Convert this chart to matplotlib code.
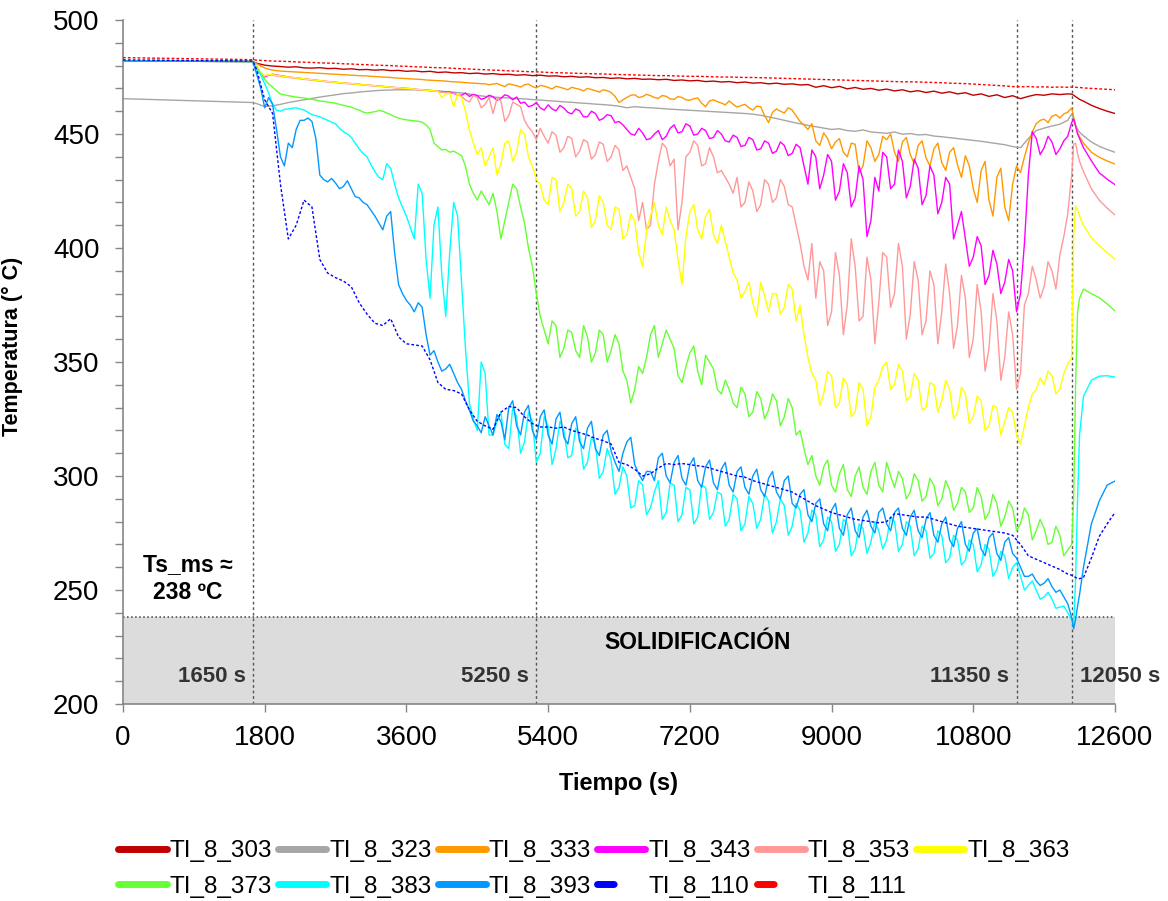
import matplotlib
matplotlib.use("Agg")
import matplotlib.pyplot as plt
from matplotlib.lines import Line2D
from matplotlib.ticker import MultipleLocator

plt.rcParams['font.family'] = ['Liberation Sans', 'DejaVu Sans']

tail = [12050, 12075, 12100, 12125, 12150, 12200, 12300, 12400, 12500, 12600]
# smooth probes read every 100 s, noisy probes every 50 s
t = [0, 1650] + list(range(1700, 12001, 100)) + tail
t_fine = [0, 1650] + list(range(1700, 12001, 50)) + tail

ti_303 = [482.0, 481.8,
          481.0, 480.2, 479.8, 479.6, 479.3, 479.5, 479.0, 478.9, 479.1, 478.7,
          478.8, 478.4, 478.6, 478.2, 478.3, 478.0, 478.2, 477.8, 477.9, 477.5,
          477.7, 477.3, 477.5, 477.0, 477.2, 476.8, 476.9, 476.5, 476.7, 476.3,
          476.5, 476.1, 476.2, 475.8, 476.0, 475.6, 475.8, 475.4, 475.5, 475.1,
          475.3, 474.9, 475.1, 474.7, 474.8, 474.4, 474.6, 474.2, 474.4, 474.0,
          474.1, 473.8, 474.0, 473.5, 473.7, 473.3, 473.5, 473.0, 473.2, 472.8,
          473.0, 472.5, 472.8, 472.3, 472.5, 472.0, 472.3, 471.8, 472.0, 471.5,
          471.7, 470.5, 471.2, 470.3, 470.9, 469.8, 470.4, 469.6, 470.0, 469.2,
          469.7, 468.9, 469.4, 468.5, 469.0, 468.2, 468.8, 467.9, 468.5, 467.6,
          468.1, 467.0, 467.6, 466.5, 467.2, 466.0, 466.8, 465.5, 466.5, 467.3,
          467.0, 467.6, 467.3, 467.6,
          467.5, 467.0, 466.4, 465.8, 465.2, 464.4, 462.6, 461.2, 460.0, 459.0]

ti_323 = [465.5, 463.8,
          463.3, 462.0, 462.4, 463.0, 463.8, 464.4, 465.0, 465.6, 466.2, 466.7,
          467.2, 467.7, 468.0, 468.4, 468.7, 469.0, 469.2, 469.3, 469.4, 469.4,
          469.4, 469.3, 469.1, 468.9, 468.6, 468.3, 468.0, 467.5, 467.0, 466.5,
          466.2, 466.0, 465.8, 465.6, 465.4, 465.1, 464.9, 464.6, 464.4, 464.1,
          463.9, 463.6, 463.4, 463.1, 462.9, 462.6, 462.2, 461.5, 462.0, 461.7,
          461.5, 461.3, 461.0, 460.8, 460.6, 460.4, 460.2, 460.0, 459.8, 459.6,
          459.4, 459.2, 459.0, 458.7, 458.2, 457.5, 456.8, 456.0, 455.2, 454.5,
          453.8, 453.2, 452.6, 452.0, 452.3, 451.5, 451.2, 451.8, 450.9, 450.6,
          450.3, 450.9, 449.9, 450.2, 449.6, 449.8, 449.1, 448.8, 448.4, 448.0,
          447.6, 447.2, 446.8, 446.3, 445.8, 445.3, 444.5, 444.0, 448.0, 451.5,
          452.6, 453.5, 454.3, 456.0,
          458.8, 456.5, 453.8, 452.0, 450.8, 449.2, 446.5, 444.6, 443.2, 442.0]

ti_333 = [482.0, 481.8,
          480.8, 479.8, 479.0, 478.4, 478.0, 477.8, 477.6, 477.5, 477.4, 477.3,
          477.2, 477.1, 477.0, 476.9, 476.8, 476.7, 476.6, 476.5, 476.4, 476.3,
          476.2, 476.1, 476.0, 475.9, 475.8, 475.7, 475.6, 475.5, 475.5, 475.3,
          475.2, 475.1, 475.0, 474.9, 474.8, 474.6, 474.5, 474.4, 474.3, 474.2,
          474.1, 474.0, 473.9, 473.7, 473.6, 473.5, 473.4, 473.3, 473.2, 473.0,
          472.9, 472.8, 472.7, 472.5, 472.4, 472.3, 472.2, 472.1, 472.0, 471.6,
          471.9, 472.2, 471.4, 470.8, 472.0, 471.6, 471.2, 470.6, 471.6, 471.9,
          470.8, 470.2, 471.3, 471.0, 470.4, 469.8, 470.9, 470.5, 470.0, 469.4,
          470.5, 470.0, 469.6, 468.9, 470.0, 469.5, 469.0, 468.4, 469.4, 469.0,
          468.2, 466.5, 463.8, 465.0, 466.0, 467.0, 467.2, 466.0, 466.4, 467.4,
          466.8, 466.0, 465.6, 466.9, 466.5, 465.4, 465.2, 466.4, 466.0, 465.0,
          464.8, 465.5, 465.8, 463.5, 462.0, 464.5, 465.0, 464.2, 463.6, 462.8,
          464.5, 463.0, 461.8, 462.5, 463.0, 461.5, 460.5, 462.2, 462.0, 458.0,
          455.0, 459.5, 461.0, 460.0, 459.2, 461.5, 460.5, 458.0, 455.5, 454.0,
          452.0, 454.5, 447.0, 445.0, 450.5, 448.0, 443.5, 446.5, 448.0, 442.0,
          440.0, 446.0, 445.5, 433.0, 436.0, 447.0, 444.0, 438.0, 441.0, 449.0,
          447.5, 450.0, 442.0, 438.0, 446.5, 448.5, 441.0, 437.0, 445.0, 447.0,
          439.5, 436.0, 443.5, 446.0, 437.5, 434.0, 442.0, 444.0, 436.5, 431.0,
          440.5, 436.0, 426.0, 420.0, 434.0, 438.0, 421.0, 414.0, 431.0, 435.0,
          418.0, 412.0, 428.0, 436.0, 433.0, 440.0, 446.0, 451.0, 454.5, 456.0,
          456.5, 455.0, 457.8, 458.5, 457.0, 458.8, 459.6,
          461.4, 457.5, 453.5, 450.5, 448.8, 446.0, 442.0, 439.8, 438.2, 436.8]

ti_343 = [482.0, 481.8,
          479.5, 476.5, 475.0, 475.8, 476.2, 475.9, 475.6, 475.3, 475.0, 474.8,
          474.6, 474.4, 474.2, 474.0, 473.8, 473.6, 473.4, 473.2, 473.0, 472.9,
          472.7, 472.5, 472.4, 472.2, 472.1, 471.9, 471.8, 471.6, 471.5, 471.3,
          471.2, 471.0, 470.9, 470.7, 470.6, 470.4, 470.3, 470.1, 470.0, 469.9,
          469.7, 469.5, 469.4, 469.2, 469.1, 468.9, 468.7, 468.5, 468.3, 468.4,
          467.9, 467.0, 467.0, 468.0, 466.5, 467.4, 466.8, 465.2, 465.8, 467.0,
          466.4, 464.8, 465.6, 467.2, 466.6, 465.0, 466.2, 463.5, 464.0, 462.0,
          462.5, 463.8, 461.5, 460.5, 462.8, 461.0, 460.2, 462.5, 461.4, 459.5,
          458.8, 461.0, 460.2, 457.5, 457.6, 460.0, 459.0, 456.0, 456.8, 458.5,
          458.0, 455.0, 455.5, 454.0, 452.0, 450.0, 449.5, 452.5, 450.5, 447.5,
          448.0, 450.0, 451.5, 447.5, 449.0, 452.5, 454.0, 450.5, 451.0, 454.5,
          453.5, 449.5, 450.0, 452.5, 451.5, 448.0, 448.5, 451.5, 450.0, 447.0,
          446.5, 449.5, 448.5, 444.5, 445.0, 448.5, 447.5, 443.0, 443.5, 447.0,
          446.0, 441.5, 442.5, 446.5, 445.0, 440.5, 441.5, 445.5, 444.0, 436.0,
          428.0, 443.0, 440.0, 426.0, 432.0, 441.0, 438.0, 421.0, 425.0, 437.0,
          433.0, 418.0, 422.0, 436.0, 430.0, 405.0, 412.0, 431.0, 425.0, 442.0,
          440.0, 426.0, 428.0, 443.0, 438.0, 422.0, 427.0, 439.0, 435.0, 419.0,
          423.0, 436.0, 432.0, 415.0, 420.0, 431.0, 428.0, 404.0, 410.0, 416.0,
          404.0, 392.0, 396.0, 405.0, 401.0, 384.0, 388.0, 399.0, 393.0, 380.0,
          385.0, 395.0, 390.0, 372.0, 380.0, 402.0, 432.0, 451.0, 448.0, 441.0,
          444.0, 449.0, 446.5, 441.0, 443.5, 447.0, 449.0,
          455.0, 456.5, 453.5, 450.0, 448.0, 444.0, 438.3, 433.0, 430.2, 427.8]

ti_353 = [482.0, 481.8,
          479.5, 476.8, 475.5, 475.9, 475.8, 475.5, 475.2, 475.0, 474.8, 474.6,
          474.4, 474.2, 474.0, 473.8, 473.6, 473.4, 473.2, 473.0, 472.9, 472.7,
          472.6, 472.4, 472.3, 472.1, 472.0, 471.8, 471.7, 471.5, 471.4, 471.2,
          471.1, 470.9, 470.8, 470.6, 470.5, 470.3, 470.2, 470.0, 469.9, 469.7,
          469.6, 469.4, 469.3, 469.1, 469.0, 468.8, 468.6, 468.4, 468.2, 468.0,
          467.8, 467.2, 466.5, 465.0, 464.0, 467.0, 466.0, 461.5, 463.0, 466.0,
          459.0, 465.5, 464.5, 455.5, 458.0, 464.0, 463.0, 462.0, 456.0, 453.0,
          451.0, 447.5, 452.5, 449.0, 446.0, 451.0, 449.5, 442.0, 444.0, 449.0,
          448.0, 440.0, 442.5, 447.5, 446.5, 439.0, 441.0, 446.5, 445.5, 438.0,
          440.0, 445.0, 443.0, 434.0, 436.0, 431.0, 426.0, 412.0, 420.0, 408.0,
          410.0, 428.0, 438.0, 446.0, 444.0, 436.0, 439.0, 408.0, 420.0, 440.0,
          442.0, 447.0, 445.0, 436.0, 437.0, 444.0, 440.0, 433.0, 434.0, 431.0,
          428.0, 424.0, 431.0, 418.0, 420.0, 429.0, 425.0, 416.0, 419.0, 430.0,
          428.0, 420.0, 422.0, 430.0, 427.0, 419.0, 418.0, 410.0, 402.0, 392.0,
          386.0, 402.0, 378.0, 394.0, 390.0, 366.0, 372.0, 398.0, 388.0, 362.0,
          375.0, 404.0, 392.0, 368.0, 370.0, 396.0, 386.0, 358.0, 376.0, 398.0,
          396.0, 374.0, 380.0, 402.0, 392.0, 360.0, 371.0, 394.0, 386.0, 362.0,
          368.0, 390.0, 384.0, 358.0, 372.0, 393.0, 380.0, 356.0, 366.0, 388.0,
          378.0, 352.0, 360.0, 384.0, 372.0, 346.0, 356.0, 380.0, 368.0, 342.0,
          352.0, 372.0, 362.0, 338.0, 345.0, 375.0, 380.0, 392.0, 386.0, 378.0,
          383.0, 394.0, 390.0, 382.0, 397.0, 405.0, 415.0,
          432.0, 445.5, 446.0, 441.5, 438.0, 433.5, 426.0, 421.0, 417.5, 414.5]

ti_363 = [482.0, 481.8,
          479.5, 476.8, 475.5, 476.1, 476.0, 475.8, 475.5, 475.2, 475.0, 474.8,
          474.6, 474.4, 474.2, 474.0, 473.8, 473.6, 473.4, 473.2, 473.0, 472.9,
          472.7, 472.5, 472.4, 472.2, 472.1, 471.9, 471.8, 471.6, 471.5, 471.3,
          471.2, 471.0, 470.9, 470.7, 470.6, 470.4, 470.3, 470.1, 470.0, 469.9,
          469.7, 469.5, 469.4, 469.2, 469.1, 468.9, 468.8, 466.0, 467.5, 468.0,
          462.0, 467.5, 466.0, 460.0, 452.0, 446.0, 441.0, 444.0, 436.0, 440.0,
          444.0, 432.0, 437.0, 446.0, 447.0, 438.0, 442.0, 452.0, 450.0, 440.0,
          436.0, 430.0, 428.0, 421.0, 419.0, 431.0, 430.0, 416.0, 420.0, 428.0,
          426.0, 414.0, 416.0, 425.0, 422.0, 409.0, 412.0, 423.0, 420.0, 410.0,
          408.0, 418.0, 417.0, 404.0, 406.0, 415.0, 412.0, 398.0, 392.0, 408.0,
          414.0, 420.0, 410.0, 406.0, 418.0, 412.0, 408.0, 395.0, 384.0, 405.0,
          416.0, 419.0, 408.0, 404.0, 414.0, 417.0, 406.0, 402.0, 410.0, 403.0,
          396.0, 389.0, 386.0, 378.0, 381.0, 385.0, 376.0, 370.0, 385.0, 379.0,
          372.0, 380.0, 380.0, 371.0, 374.0, 384.0, 382.0, 368.0, 375.0, 362.0,
          352.0, 345.0, 342.0, 331.0, 336.0, 346.0, 344.0, 330.0, 332.0, 343.0,
          340.0, 326.0, 328.0, 341.0, 338.0, 322.0, 326.0, 339.0, 342.0, 348.0,
          350.0, 338.0, 340.0, 349.0, 346.0, 333.0, 335.0, 345.0, 342.0, 329.0,
          330.0, 341.0, 340.0, 328.0, 333.0, 342.0, 338.0, 325.0, 328.0, 339.0,
          336.0, 323.0, 326.0, 335.0, 333.0, 320.0, 322.0, 331.0, 330.0, 318.0,
          324.0, 330.0, 328.0, 318.0, 314.0, 322.0, 330.0, 336.0, 338.0, 343.0,
          340.0, 346.0, 344.0, 336.0, 338.0, 345.0, 349.0,
          352.0, 405.0, 418.5, 416.5, 414.0, 410.0, 404.5, 401.0, 398.0, 395.0]

ti_373 = [482.0, 481.8,
          479.0, 476.5, 474.0, 472.0, 470.5, 469.0, 467.5, 467.2, 466.8, 466.5,
          466.2, 466.0, 465.8, 465.5, 465.2, 464.9, 464.5, 464.3, 464.0, 463.8,
          463.5, 463.0, 462.6, 462.2, 461.8, 461.0, 460.5, 459.6, 459.2, 459.5,
          459.8, 460.3, 460.0, 459.2, 458.5, 457.6, 457.0, 456.5, 456.2, 456.0,
          455.8, 455.6, 455.2, 454.0, 452.0, 446.0, 444.5, 443.0, 443.2, 442.0,
          442.5, 441.5, 440.5, 436.0, 428.0, 424.0, 421.0, 425.0, 422.0, 419.0,
          424.0, 416.0, 404.0, 412.0, 420.0, 428.0, 426.0, 418.0, 411.0, 400.0,
          392.0, 380.0, 370.0, 364.0, 358.0, 368.0, 366.0, 352.0, 356.0, 364.0,
          363.0, 355.0, 352.0, 366.0, 361.0, 350.0, 354.0, 364.0, 362.0, 350.0,
          355.0, 362.0, 358.0, 346.0, 342.0, 332.0, 338.0, 348.0, 345.0, 352.0,
          362.0, 366.0, 352.0, 358.0, 364.0, 360.0, 356.0, 344.0, 341.0, 348.0,
          354.0, 357.0, 346.0, 340.0, 353.0, 350.0, 347.0, 338.0, 336.0, 342.0,
          338.0, 332.0, 330.0, 339.0, 336.0, 326.0, 328.0, 337.0, 334.0, 325.0,
          329.0, 336.0, 333.0, 322.0, 326.0, 334.0, 330.0, 318.0, 320.0, 312.0,
          305.0, 309.0, 300.0, 296.0, 304.0, 307.0, 296.0, 293.0, 301.0, 305.0,
          294.0, 291.0, 300.0, 304.0, 295.0, 292.0, 302.0, 306.0, 296.0, 293.0,
          306.0, 300.0, 295.0, 302.0, 299.0, 290.0, 293.0, 301.0, 298.0, 289.0,
          291.0, 299.0, 296.0, 287.0, 290.0, 298.0, 294.0, 285.0, 288.0, 295.0,
          293.0, 284.0, 286.0, 295.0, 291.0, 281.0, 284.0, 292.0, 288.0, 278.0,
          282.0, 289.0, 286.0, 276.0, 279.0, 286.0, 283.0, 272.0, 276.0, 281.0,
          277.0, 270.0, 271.0, 278.0, 274.0, 265.0, 267.5,
          270.0, 290.0, 340.0, 372.0, 378.0, 382.0, 380.0, 378.2, 375.5, 372.4]

ti_383 = [482.0, 481.8,
          478.0, 476.0, 472.0, 468.0, 463.0, 460.5, 460.0, 460.8, 461.0, 461.3,
          461.5, 461.0, 460.5, 459.5, 458.5, 458.0, 457.5, 456.8, 456.0, 455.2,
          454.5, 452.5, 451.0, 450.0, 448.5, 446.0, 443.5, 441.5, 440.0, 436.5,
          433.5, 431.0, 430.0, 437.0, 435.0, 428.0, 422.0, 418.0, 414.0, 409.0,
          404.0, 428.0, 424.0, 395.0, 378.0, 410.0, 418.0, 388.0, 370.0, 398.0,
          420.0, 414.0, 385.0, 356.0, 332.0, 325.0, 320.0, 350.0, 345.0, 318.0,
          318.0, 324.0, 328.0, 314.0, 312.0, 330.0, 326.0, 310.0, 315.0, 328.0,
          324.0, 306.0, 310.0, 326.0, 322.0, 305.0, 312.0, 324.0, 320.0, 308.0,
          309.0, 321.0, 318.0, 303.0, 306.0, 317.0, 314.0, 299.0, 302.0, 312.0,
          307.0, 292.0, 295.0, 304.0, 300.0, 286.0, 287.0, 298.0, 296.0, 283.0,
          286.0, 293.0, 298.0, 281.0, 284.0, 297.0, 296.0, 280.0, 283.0, 295.0,
          294.0, 279.0, 282.0, 296.0, 295.0, 281.0, 284.0, 293.0, 292.0, 278.0,
          281.0, 292.0, 290.0, 276.0, 279.0, 291.0, 288.0, 277.0, 281.0, 292.0,
          289.0, 275.0, 280.0, 290.0, 287.0, 274.0, 278.0, 288.0, 285.0, 271.0,
          275.0, 285.0, 283.0, 269.0, 272.0, 282.0, 280.0, 267.0, 270.0, 281.0,
          279.0, 265.0, 268.0, 279.0, 277.0, 266.0, 271.0, 280.0, 276.0, 268.0,
          272.0, 282.0, 280.0, 267.0, 270.0, 280.0, 278.0, 265.0, 268.0, 278.0,
          276.0, 264.0, 266.0, 276.0, 274.0, 262.0, 264.0, 274.0, 272.0, 261.0,
          263.0, 272.0, 270.0, 258.0, 261.0, 270.0, 268.0, 256.0, 259.0, 267.0,
          265.0, 255.0, 260.0, 262.0, 256.0, 250.0, 252.0, 254.0, 250.0, 246.0,
          247.0, 249.0, 246.0, 242.0, 242.5, 243.0, 240.0,
          237.0, 234.0, 255.0, 290.0, 318.0, 335.0, 342.0, 343.8, 344.0, 343.4]

ti_393 = [482.0, 481.8,
          476.0, 470.0, 461.5, 466.0, 463.0, 452.0, 440.0, 436.0, 446.0, 444.0,
          452.0, 456.0, 456.0, 457.0, 455.5, 448.0, 432.0, 430.0, 429.0, 430.5,
          428.5, 426.0, 427.0, 429.5, 426.0, 422.5, 422.0, 420.0, 419.0, 416.5,
          414.0, 411.0, 408.0, 414.0, 416.0, 398.0, 384.0, 380.0, 377.0, 375.0,
          372.0, 376.0, 374.0, 362.0, 353.0, 355.0, 350.0, 346.0, 347.0, 349.0,
          345.0, 341.0, 338.0, 333.0, 329.0, 324.0, 322.0, 319.0, 326.0, 322.0,
          318.0, 327.0, 324.0, 316.0, 330.0, 333.0, 322.0, 318.0, 328.0, 331.0,
          320.0, 316.0, 326.0, 329.0, 318.0, 314.0, 325.0, 328.0, 317.0, 314.0,
          323.0, 326.0, 315.0, 312.0, 321.0, 324.0, 312.0, 309.0, 318.0, 320.0,
          311.0, 306.0, 302.0, 310.0, 315.0, 317.0, 305.0, 301.0, 298.0, 302.0,
          302.0, 298.0, 308.0, 310.0, 300.0, 297.0, 306.0, 309.0, 299.0, 296.0,
          305.0, 308.0, 298.0, 295.0, 304.0, 307.0, 297.0, 294.0, 303.0, 306.0,
          296.0, 293.0, 302.0, 304.0, 295.0, 292.0, 300.0, 303.0, 294.0, 291.0,
          299.0, 302.0, 293.0, 290.0, 298.0, 300.0, 288.0, 286.0, 292.0, 294.0,
          283.0, 280.0, 288.0, 290.0, 279.0, 276.0, 285.0, 288.0, 277.0, 274.0,
          283.0, 286.0, 276.0, 273.0, 282.0, 285.0, 278.0, 275.0, 284.0, 286.0,
          279.0, 276.0, 284.0, 286.0, 277.0, 274.0, 282.0, 285.0, 276.0, 273.0,
          281.0, 284.0, 274.0, 271.0, 279.0, 282.0, 272.0, 269.0, 277.0, 280.0,
          270.0, 267.0, 275.0, 277.0, 268.0, 265.0, 273.0, 275.0, 266.0, 263.0,
          271.0, 273.0, 266.0, 264.0, 260.0, 256.0, 256.0, 257.0, 254.0, 252.0,
          253.0, 255.0, 251.5, 249.0, 250.0, 247.0, 244.0,
          238.0, 233.0, 237.0, 243.0, 248.0, 260.0, 279.0, 289.0, 296.0, 297.8]

ti_110 = [482.5, 482.0,
          478.0, 465.0, 459.0, 428.0, 404.0, 410.0, 421.0, 418.0, 395.0, 389.0,
          387.0, 385.5, 383.0, 376.0, 371.0, 367.0, 366.0, 369.0, 361.0, 358.0,
          357.5, 357.0, 351.0, 341.0, 338.0, 337.5, 336.0, 329.0, 324.0, 322.0,
          320.5, 328.0, 330.5, 330.0, 326.0, 323.0, 321.5, 321.5, 321.0, 321.5,
          320.0, 319.0, 318.0, 316.5, 315.5, 314.0, 306.0, 305.0, 303.0, 300.0,
          301.0, 303.5, 305.5, 305.0, 305.5, 305.0, 304.5, 304.0, 303.0, 302.0,
          301.0, 300.0, 299.5, 298.0, 297.0, 296.0, 295.0, 294.0, 293.0, 291.0,
          289.0, 287.0, 285.5, 284.0, 283.0, 282.0, 281.0, 280.5, 280.0, 279.5,
          280.0, 283.5, 283.0, 282.5, 282.0, 282.0, 281.0, 280.0, 279.0, 278.0,
          277.5, 277.0, 276.5, 276.0, 275.5, 275.0, 274.0, 270.0, 265.0, 263.5,
          262.0, 260.5, 259.0, 257.0,
          256.5, 256.0, 255.5, 255.0, 255.0, 255.5, 264.0, 273.5, 279.0, 284.0]

ti_111 = [483.5, 482.6,
          482.4, 482.2, 482.0, 481.9, 481.8, 481.6, 481.5, 481.4, 481.2, 481.1,
          481.0, 480.8, 480.7, 480.5, 480.4, 480.2, 480.1, 480.0, 479.8, 479.7,
          479.5, 479.4, 479.2, 479.1, 479.0, 478.8, 478.6, 478.5, 478.3, 478.2,
          478.0, 477.9, 477.7, 477.6, 477.4, 477.3, 477.2, 477.0, 476.9, 476.8,
          476.7, 476.6, 476.5, 476.4, 476.3, 476.2, 476.1, 476.0, 475.9, 475.8,
          475.7, 475.6, 475.6, 475.5, 475.4, 475.3, 475.3, 475.2, 475.1, 475.0,
          475.0, 474.9, 474.8, 474.8, 474.7, 474.6, 474.5, 474.4, 474.3, 474.2,
          474.1, 474.0, 473.9, 473.8, 473.7, 473.6, 473.5, 473.4, 473.3, 473.2,
          473.1, 473.0, 472.9, 472.9, 472.8, 472.7, 472.6, 472.5, 472.3, 472.2,
          472.1, 471.9, 471.7, 471.5, 471.3, 471.1, 470.8, 470.7, 470.8, 470.6,
          470.7, 470.5, 470.6, 470.5,
          470.6, 470.5, 470.5, 470.4, 470.4, 470.2, 470.0, 469.8, 469.6, 469.4]

names = ['TI_8_303', 'TI_8_323', 'TI_8_333', 'TI_8_343', 'TI_8_353', 'TI_8_363',
         'TI_8_373', 'TI_8_383', 'TI_8_393', 'TI_8_110', 'TI_8_111']
series = [ti_303, ti_323, ti_333, ti_343, ti_353, ti_363, ti_373, ti_383, ti_393, ti_110, ti_111]
times = [t, t, t_fine, t_fine, t_fine, t_fine, t_fine, t_fine, t_fine, t, t]
colors = ['#c00000', '#a6a6a6', '#ff9900', '#ff00ff', '#ff9999', '#ffff00',
          '#66ff33', '#00ffff', '#0099ff', '#0000ff', '#ff0000']

events = [1650, 5250, 11350, 12050]
event_labels = ['1650 s', '5250 s', '11350 s', '12050 s']
ts_ms = 238

fig = plt.figure(figsize=(11.68, 9.01), dpi=100)
ax = fig.add_axes([0.1053, 0.2186, 0.8493, 0.7592])

# solidification band
ax.axhspan(200, ts_ms, color='#dcdcdc', zorder=0, lw=0)
ax.axhline(ts_ms, color='#404040', ls=':', lw=1.1, zorder=1)
for ev in events:
    ax.axvline(ev, color='#555555', ls=(0, (2, 2)), lw=1.0, zorder=1)

for name, x, y, c in zip(names, times, series, colors):
    if name in ('TI_8_110', 'TI_8_111'):
        ax.plot(x, y, color=c, lw=1.0, ls=(0, (2, 1.5)), zorder=3)
    else:
        ax.plot(x, y, color=c, lw=1.0, zorder=2)

ax.set_xlim(0, 12600)
ax.set_ylim(200, 500)
ax.set_xticks(range(0, 12601, 1800))
ax.yaxis.set_major_locator(MultipleLocator(50))
ax.yaxis.set_minor_locator(MultipleLocator(10))
ax.tick_params(which='both', direction='out', length=6, width=1, color='#868686', labelsize=20)
ax.tick_params(axis='y', pad=11)
ax.tick_params(axis='x', pad=9)
for s in ['top', 'right']:
    ax.spines[s].set_visible(False)
for s in ['left', 'bottom']:
    ax.spines[s].set_color('#868686')
    ax.spines[s].set_linewidth(1.2)

ax.set_xlabel('Tiempo (s)', fontsize=17, fontweight='bold')
ax.set_ylabel('Temperatura (° C)', fontsize=15.5, fontweight='bold')
ax.xaxis.set_label_coords(0.5, -0.099)
ax.yaxis.set_label_coords(-0.101, 0.523)

ax.text(826, 255, 'Ts_ms ≈\n238 ºC', ha='center', va='center', fontsize=16.5,
        fontweight='bold', linespacing=1.3)
ax.text(7300, 227, 'SOLIDIFICACIÓN', ha='center', va='center', fontsize=16.5, fontweight='bold')
for ev, lab in zip(events, event_labels):
    if ev == 12050:
        ax.text(ev + 110, 212, lab, ha='left', va='center', fontsize=16,
                fontweight='bold', color='#333333', clip_on=False)
    else:
        ax.text(ev - 90, 212, lab, ha='right', va='center', fontsize=16,
                fontweight='bold', color='#333333')

# legend: fill order so that the rows read like the original
order = [0, 6, 1, 7, 2, 8, 3, 9, 4, 10, 5]
handles = []
labels = []
for i in order:
    if names[i] in ('TI_8_110', 'TI_8_111'):
        h = Line2D([], [], color=colors[i], lw=5, ls=(0, (2.4, 20)), dash_capstyle='round')
    else:
        h = Line2D([], [], color=colors[i], lw=5, solid_capstyle='round')
    handles.append(h)
    labels.append(names[i])
fig.legend(handles, labels, loc='upper left', bbox_to_anchor=(0.091, 0.081),
           ncol=6, frameon=False, fontsize=17.5, handlelength=1.98,
           handletextpad=0.12, columnspacing=0.25, borderpad=0, labelspacing=0.55)

fig.savefig('out.png', dpi=100)
